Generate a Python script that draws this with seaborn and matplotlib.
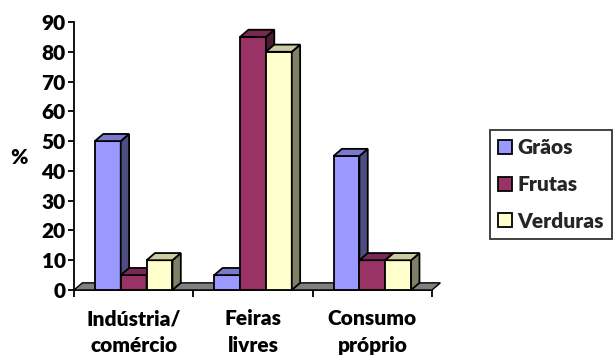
import matplotlib
matplotlib.use("Agg")
import matplotlib.pyplot as plt
import pandas as pd
import seaborn as sns
from matplotlib.patches import Polygon, Patch

CATEGORIES = ["Indústria/\ncomércio", "Feiras\nlivres", "Consumo\npróprio"]
SERIES = ["Grãos", "Frutas", "Verduras"]
GRAOS = [50, 5, 45]
FRUTAS = [5, 85, 10]
VERDURAS = [10, 80, 10]
Y_TICKS = list(range(0, 91, 10))

FRONT = {"Grãos": "#9999FF", "Frutas": "#993366", "Verduras": "#FFFFCC"}
SIDE = {"Grãos": "#4D4D80", "Frutas": "#4D1A33", "Verduras": "#808066"}
TOP = {"Grãos": "#7A7ACC", "Frutas": "#7A2952", "Verduras": "#CCCCA3"}


def main() -> None:
    rows = []
    for name, vals in zip(SERIES, [GRAOS, FRUTAS, VERDURAS]):
        for cat, v in zip(CATEGORIES, vals):
            rows.append({"categoria": cat, "serie": name, "valor": v})
    df = pd.DataFrame(rows)

    sns.set_theme(style="white")
    plt.rcParams["font.family"] = ["Lato", "DejaVu Sans"]
    plt.rcParams["font.weight"] = "heavy"

    fig = plt.figure(figsize=(6.16, 3.6), dpi=100)
    ax = fig.add_axes([74 / 616, 70 / 360, 358 / 616, 268 / 360])

    sns.barplot(
        data=df, x="categoria", y="valor", hue="serie", order=CATEGORIES,
        hue_order=SERIES, palette=FRONT, width=0.65, gap=0, ax=ax,
        edgecolor="black", linewidth=1.3, legend=False, saturation=1,
    )

    dx, dy = 0.07, 2.4

    # floor
    floor = Polygon(
        [(-0.5, 0), (2.5, 0), (2.5 + dx, dy), (-0.5 + dx, dy)],
        closed=True, facecolor="#808080", edgecolor="black", lw=1.0,
        zorder=1, clip_on=False,
    )
    ax.add_patch(floor)

    bars = sorted(ax.patches[:-1], key=lambda p: p.get_x())
    z = 2
    for p in bars:
        x0, w, h = p.get_x(), p.get_width(), p.get_height()
        fc = matplotlib.colors.to_hex(p.get_facecolor())
        name = next(k for k, v in FRONT.items() if v.lower() == fc.lower())
        p.set_zorder(z)
        side = Polygon(
            [(x0 + w, 0), (x0 + w + dx, dy), (x0 + w + dx, h + dy), (x0 + w, h)],
            closed=True, facecolor=SIDE[name], edgecolor="black", lw=1.3,
            zorder=z, clip_on=False,
        )
        top = Polygon(
            [(x0, h), (x0 + w, h), (x0 + w + dx, h + dy), (x0 + dx, h + dy)],
            closed=True, facecolor=TOP[name], edgecolor="black", lw=1.3,
            zorder=z, clip_on=False,
        )
        ax.add_patch(side)
        ax.add_patch(top)
        z += 1

    ax.set_xlim(-0.5, 2.5)
    ax.set_ylim(0, 90)
    ax.set_yticks(Y_TICKS)
    ax.tick_params(axis="y", left=True, length=4, width=1.3, labelsize=15,
                   pad=2, color="black")
    ax.set_xticks(range(len(CATEGORIES)))
    ax.set_xticklabels(CATEGORIES, fontsize=15, linespacing=1.45)
    ax.set_xticks([-0.5, 0.5, 1.5, 2.5], minor=True)
    ax.tick_params(axis="x", which="major", length=0, pad=14)
    ax.tick_params(axis="x", which="minor", bottom=True, length=5, width=1.3,
                   color="black")
    for lbl in ax.get_yticklabels() + ax.get_xticklabels():
        lbl.set_fontweight("heavy")
        lbl.set_color("black")

    ax.set_xlabel("")
    ax.set_ylabel("%", rotation=0, fontsize=15, fontweight="heavy",
                  color="black", va="center", ha="center")
    ax.yaxis.set_label_coords(-0.155, 0.495)

    for s in ["top", "right"]:
        ax.spines[s].set_visible(False)
    for s in ["left", "bottom"]:
        ax.spines[s].set_color("black")
        ax.spines[s].set_linewidth(1.3)
        ax.spines[s].set_zorder(0.5)

    handles = [Patch(facecolor=FRONT[n], edgecolor="black", lw=1.3, label=n)
               for n in SERIES]
    leg = fig.legend(
        handles=handles, loc="upper left", bbox_to_anchor=(490 / 616, 1 - 130 / 360),
        frameon=True, fancybox=False, edgecolor="black", fontsize=15,
        handlelength=0.65, handleheight=0.65, handletextpad=0.25,
        labelspacing=0.85, borderpad=0.4, borderaxespad=0,
    )
    leg.get_frame().set_linewidth(1.3)
    for t in leg.get_texts():
        t.set_fontweight("heavy")

    fig.savefig("out.png", dpi=100)


if __name__ == "__main__":
    main()
